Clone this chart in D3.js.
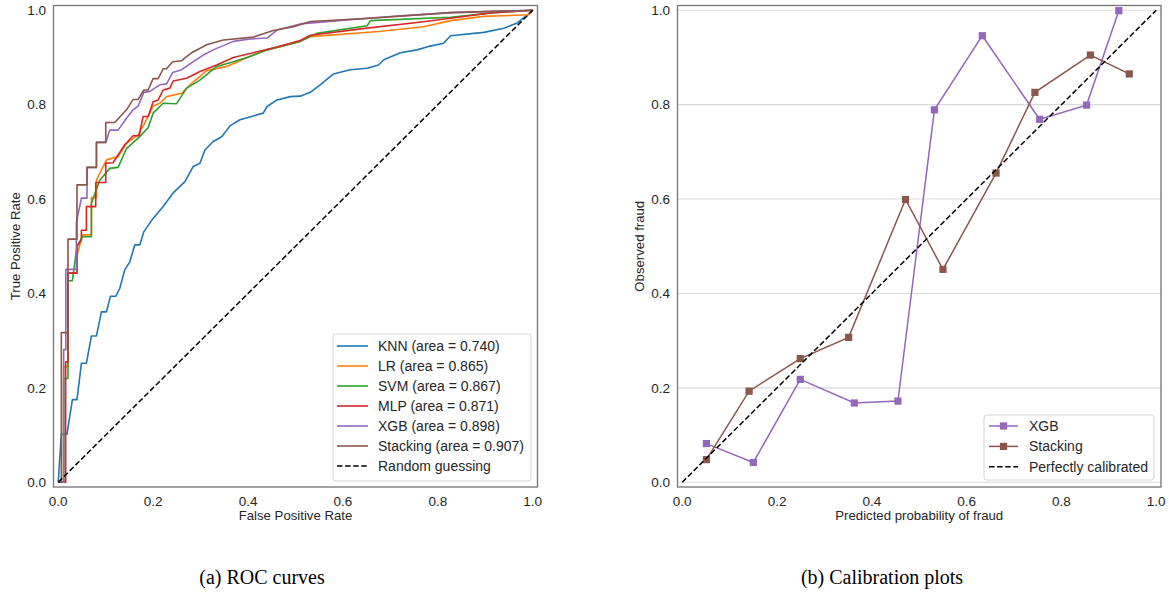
<!DOCTYPE html>
<html>
<head>
<meta charset="utf-8">
<script src="https://cdn.jsdelivr.net/npm/d3@7"></script>
<style>
  body { margin: 0; background: #fff; }
  text { font-family: "Liberation Sans", Arial, sans-serif; fill: #262626; }
  .caption { font-family: "Liberation Serif", "Times New Roman", serif; fill: #000; }
</style>
</head>
<body>
<svg id="chart" width="1169" height="596"></svg>
<script>
// ---- data ----
var tickValues = [0, 0.2, 0.4, 0.6, 0.8, 1.0];

var rocNames = ["KNN", "LR", "SVM", "MLP", "XGB", "Stacking"];
var rocAreas = ["0.740", "0.865", "0.867", "0.871", "0.898", "0.907"];

// [fpr, tpr]
var rocKNN = [[0,0],[0.0065,0.102],[0.0184,0.102],[0.0298,0.175],[0.0395,0.175],[0.0488,0.252],[0.0593,0.252],
  [0.0699,0.31],[0.0805,0.31],[0.091,0.361],[0.1016,0.361],[0.110,0.394],[0.1212,0.394],[0.1297,0.411],
  [0.1402,0.45],[0.1508,0.467],[0.1614,0.503],[0.1719,0.503],[0.1804,0.531],[0.2,0.559],[0.2211,0.584],
  [0.2422,0.613],[0.267,0.637],[0.2845,0.669],[0.2986,0.676],[0.3092,0.704],[0.3267,0.722],[0.3445,0.732],
  [0.362,0.755],[0.383,0.768],[0.411,0.776],[0.432,0.782],[0.44,0.796],[0.461,0.81],[0.489,0.817],
  [0.51,0.818],[0.531,0.826],[0.552,0.842],[0.58,0.865],[0.615,0.874],[0.651,0.877],[0.675,0.884],
  [0.686,0.895],[0.721,0.91],[0.756,0.916],[0.784,0.924],[0.812,0.93],[0.827,0.946],[0.897,0.953],
  [0.939,0.962],[0.967,0.973],[0.989,0.99],[1,1]];
var rocLR = [[0,0],[0.0114,0],[0.0114,0.245],[0.0205,0.245],[0.0205,0.444],[0.0395,0.444],[0.0395,0.48],
  [0.0509,0.524],[0.0699,0.524],[0.0699,0.603],[0.0805,0.603],[0.0805,0.64],[0.1016,0.683],[0.1261,0.69],
  [0.1438,0.718],[0.1683,0.736],[0.1804,0.757],[0.2,0.797],[0.2142,0.803],[0.2283,0.817],[0.26,0.824],
  [0.2811,0.845],[0.3128,0.872],[0.355,0.881],[0.404,0.902],[0.44,0.916],[0.51,0.934],[0.531,0.944],
  [0.675,0.955],[0.77,0.965],[0.827,0.978],[0.897,0.987],[0.981,0.99],[0.99,0.99],[1,1]];
var rocSVM = [[0,0],[0.0114,0],[0.0114,0.22],[0.0205,0.22],[0.0205,0.427],[0.0298,0.427],[0.0395,0.50],
  [0.0509,0.52],[0.0699,0.52],[0.0699,0.591],[0.0874,0.64],[0.1086,0.665],[0.1261,0.667],[0.1438,0.707],
  [0.1683,0.729],[0.1894,0.751],[0.2,0.782],[0.2211,0.803],[0.2494,0.802],[0.2705,0.835],[0.2986,0.852],
  [0.3339,0.881],[0.369,0.891],[0.404,0.902],[0.44,0.916],[0.51,0.934],[0.545,0.951],[0.651,0.967],
  [0.658,0.978],[0.827,0.985],[0.918,0.995],[1,1]];
var rocMLP = [[0,0],[0.0156,0],[0.0156,0.255],[0.0205,0.255],[0.0205,0.443],[0.0395,0.443],[0.0395,0.50],
  [0.0488,0.513],[0.0488,0.534],[0.0593,0.534],[0.0593,0.584],[0.079,0.584],[0.079,0.635],[0.1001,0.635],
  [0.1001,0.676],[0.1155,0.677],[0.1402,0.715],[0.1578,0.734],[0.1704,0.734],[0.1789,0.775],[0.1894,0.775],
  [0.2,0.806],[0.2106,0.81],[0.2211,0.831],[0.2353,0.835],[0.2422,0.85],[0.2705,0.856],[0.2986,0.87],
  [0.3339,0.884],[0.369,0.9],[0.411,0.91],[0.461,0.922],[0.51,0.936],[0.531,0.947],[0.651,0.962],
  [0.756,0.974],[0.827,0.983],[0.911,0.994],[1,1]];
var rocXGB = [[0,0],[0.0114,0],[0.0114,0.281],[0.016,0.281],[0.016,0.451],[0.0382,0.451],[0.0382,0.55],
  [0.0488,0.602],[0.0606,0.602],[0.0606,0.667],[0.0805,0.667],[0.0805,0.72],[0.1001,0.72],[0.1086,0.746],
  [0.1261,0.746],[0.1438,0.771],[0.1578,0.789],[0.1683,0.797],[0.1804,0.826],[0.193,0.828],[0.2142,0.842],
  [0.2283,0.844],[0.241,0.868],[0.26,0.874],[0.2845,0.891],[0.3056,0.905],[0.3267,0.916],[0.369,0.934],
  [0.404,0.939],[0.44,0.941],[0.461,0.958],[0.51,0.971],[0.615,0.98],[0.721,0.988],[0.827,0.995],[1,1]];
var rocStacking = [[0,0],[0.0065,0],[0.0065,0.317],[0.0205,0.317],[0.0205,0.515],[0.0395,0.515],
  [0.0395,0.63],[0.0606,0.63],[0.0606,0.667],[0.0805,0.667],[0.0805,0.72],[0.1001,0.72],[0.1001,0.762],
  [0.1191,0.762],[0.1438,0.789],[0.1578,0.811],[0.1683,0.811],[0.1804,0.831],[0.1894,0.831],[0.2,0.855],
  [0.2106,0.855],[0.2211,0.876],[0.2283,0.876],[0.241,0.891],[0.26,0.893],[0.2811,0.91],[0.3128,0.927],
  [0.3478,0.937],[0.411,0.943],[0.453,0.957],[0.496,0.965],[0.531,0.976],[0.658,0.983],[0.827,0.995],[1,1]];
var rocCurves = [rocKNN, rocLR, rocSVM, rocMLP, rocXGB, rocStacking];

var calNames = ["XGB", "Stacking"];
// [mean predicted probability, fraction of positives]
var calXGB = [[0.051,0.082],[0.15,0.042],[0.249,0.218],[0.363,0.168],[0.455,0.172],
  [0.532,0.789],[0.633,0.946],[0.754,0.769],[0.853,0.799],[0.921,0.999]];
var calStacking = [[0.051,0.048],[0.141,0.193],[0.249,0.262],[0.351,0.307],[0.471,0.599],
  [0.55,0.451],[0.662,0.655],[0.744,0.826],[0.861,0.905],[0.943,0.865]];
var calCurves = [calXGB, calStacking];

// ---- styles ----
var rocColors = ["#1f77b4", "#ff7f0e", "#2ca02c", "#d62728", "#9467bd", "#8c564b"];
var calColors = ["#9467bd", "#8c564b"];

var svg = d3.select("#chart");

function makePanel(left, right, top, bottom, xLabel, yLabel, grid) {
  var x = d3.scaleLinear().domain([-0.01, 1.01]).range([left, right]);
  var y = d3.scaleLinear().domain([-0.01, 1.01]).range([bottom, top]);
  var g = svg.append("g");

  if (grid) {
    g.selectAll(".grid").data(tickValues).enter().append("line")
      .attr("x1", left).attr("x2", right)
      .attr("y1", function (d) { return y(d); })
      .attr("y2", function (d) { return y(d); })
      .attr("stroke", "#dadada").attr("stroke-width", 1.1);
  }

  // x ticks
  g.selectAll(".xt").data(tickValues).enter().append("text")
    .attr("x", function (d) { return x(d); })
    .attr("y", bottom + 18.5)
    .attr("text-anchor", "middle")
    .style("font-size", "13.5px")
    .text(function (d) { return d.toFixed(1); });
  // y ticks
  g.selectAll(".yt").data(tickValues).enter().append("text")
    .attr("x", left - 7.5)
    .attr("y", function (d) { return y(d); })
    .attr("dy", "0.36em")
    .attr("text-anchor", "end")
    .style("font-size", "13.5px")
    .text(function (d) { return d.toFixed(1); });

  g.append("text")
    .attr("x", (left + right) / 2).attr("y", bottom + 32.5)
    .attr("text-anchor", "middle").style("font-size", "13.2px")
    .text(xLabel);
  g.append("text")
    .attr("transform", "translate(" + (left - 34) + "," + ((top + bottom) / 2) + ") rotate(-90)")
    .attr("text-anchor", "middle").style("font-size", "13.2px")
    .text(yLabel);

  return { g: g, x: x, y: y, left: left, right: right, top: top, bottom: bottom };
}

function drawFrame(p) {
  p.g.append("rect")
    .attr("x", p.left).attr("y", p.top)
    .attr("width", p.right - p.left).attr("height", p.bottom - p.top)
    .attr("fill", "none").attr("stroke", "#7d7d7d").attr("stroke-width", 1.4);
}

// ===== (a) ROC curves =====
var roc = makePanel(53.5, 537.5, 5.5, 487, "False Positive Rate", "True Positive Rate", false);
var rocLine = d3.line()
  .x(function (d) { return roc.x(d[0]); })
  .y(function (d) { return roc.y(d[1]); });

rocCurves.forEach(function (c, i) {
  roc.g.append("path")
    .attr("d", rocLine(c))
    .attr("fill", "none")
    .attr("stroke", rocColors[i])
    .attr("stroke-width", 1.6)
    .attr("stroke-linejoin", "round");
});
roc.g.append("path")
  .attr("d", rocLine([[0, 0], [1, 1]]))
  .attr("stroke", "#000").attr("stroke-width", 1.5)
  .attr("stroke-dasharray", "5.5,2.6");
drawFrame(roc);

// legend
var lg = roc.g.append("g");
lg.append("rect")
  .attr("x", 333).attr("y", 334).attr("width", 198).attr("height", 147).attr("rx", 3)
  .attr("fill", "#fff").attr("fill-opacity", 0.8)
  .attr("stroke", "#d4d4d4").attr("stroke-width", 1);
var rocLegend = rocNames.map(function (n, i) {
  return { label: n + " (area = " + rocAreas[i] + ")", color: rocColors[i], dash: null };
});
rocLegend.push({ label: "Random guessing", color: "#000", dash: "5.5,2.6" });
rocLegend.forEach(function (e, i) {
  var yy = 346 + i * 20;
  lg.append("line")
    .attr("x1", 337).attr("x2", 368).attr("y1", yy).attr("y2", yy)
    .attr("stroke", e.color).attr("stroke-width", 1.6)
    .attr("stroke-dasharray", e.dash);
  lg.append("text")
    .attr("x", 378).attr("y", yy).attr("dy", "0.36em")
    .style("font-size", "14px")
    .text(e.label);
});

// ===== (b) Calibration plots =====
var cal = makePanel(677.5, 1161, 5.5, 487, "Predicted probability of fraud", "Observed fraud", true);
var calLine = d3.line()
  .x(function (d) { return cal.x(d[0]); })
  .y(function (d) { return cal.y(d[1]); });

calCurves.forEach(function (c, i) {
  cal.g.append("path")
    .attr("d", calLine(c))
    .attr("fill", "none")
    .attr("stroke", calColors[i])
    .attr("stroke-width", 1.5);
  cal.g.selectAll(".m" + i).data(c).enter().append("rect")
    .attr("x", function (d) { return cal.x(d[0]) - 3.6; })
    .attr("y", function (d) { return cal.y(d[1]) - 3.6; })
    .attr("width", 7.2).attr("height", 7.2)
    .attr("fill", calColors[i]);
});
cal.g.append("path")
  .attr("d", calLine([[0, 0], [1, 1]]))
  .attr("stroke", "#000").attr("stroke-width", 1.5)
  .attr("stroke-dasharray", "5.5,2.6");
drawFrame(cal);

var lg2 = cal.g.append("g");
lg2.append("rect")
  .attr("x", 984).attr("y", 415).attr("width", 170).attr("height", 65).attr("rx", 3)
  .attr("fill", "#fff").attr("fill-opacity", 0.8)
  .attr("stroke", "#d4d4d4").attr("stroke-width", 1);
var calLegend = calNames.map(function (n, i) {
  return { label: n, color: calColors[i], marker: true, dash: null };
});
calLegend.push({ label: "Perfectly calibrated", color: "#000", marker: false, dash: "5.5,2.6" });
calLegend.forEach(function (e, i) {
  var yy = 426 + i * 20.4;
  lg2.append("line")
    .attr("x1", 989).attr("x2", 1018).attr("y1", yy).attr("y2", yy)
    .attr("stroke", e.color).attr("stroke-width", 1.5)
    .attr("stroke-dasharray", e.dash);
  if (e.marker) {
    lg2.append("rect")
      .attr("x", 1003.5 - 3.6).attr("y", yy - 3.6).attr("width", 7.2).attr("height", 7.2)
      .attr("fill", e.color);
  }
  lg2.append("text")
    .attr("x", 1029).attr("y", yy).attr("dy", "0.36em")
    .style("font-size", "14px")
    .text(e.label);
});

// ---- sub-captions ----
svg.append("text").attr("class", "caption")
  .attr("x", 262).attr("y", 584).attr("text-anchor", "middle")
  .style("font-size", "20px").text("(a) ROC curves");
svg.append("text").attr("class", "caption")
  .attr("x", 882).attr("y", 584).attr("text-anchor", "middle")
  .style("font-size", "20px").text("(b) Calibration plots");
</script>
</body>
</html>
